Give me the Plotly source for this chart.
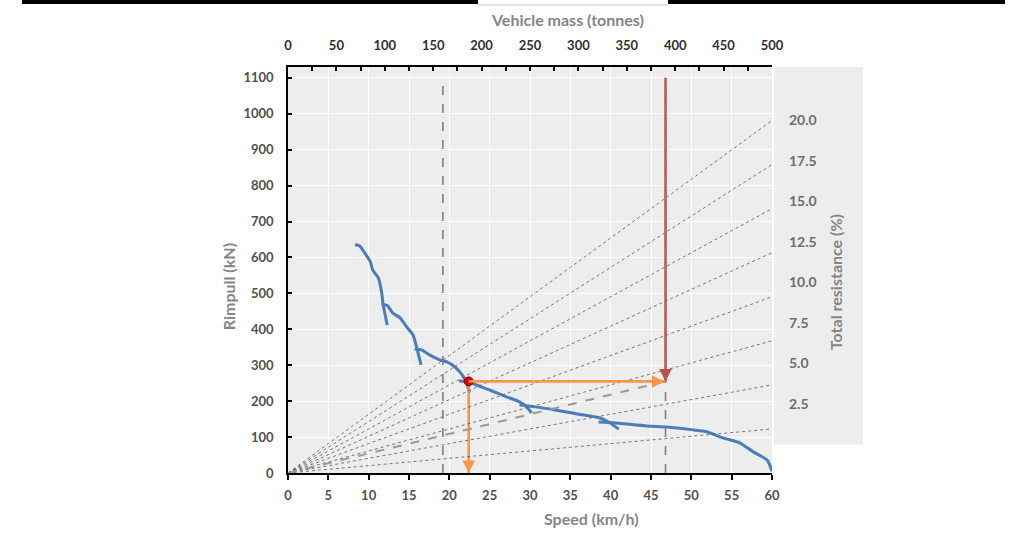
import plotly.graph_objects as go

# ---------------- data ----------------
speed_ticks = list(range(0, 61, 5))
mass_ticks = list(range(0, 501, 50))
rimpull_ticks = list(range(0, 1101, 100))
resistance_pct = [2.5, 5.0, 7.5, 10.0, 12.5, 15.0, 17.5, 20.0]

gear1_speed = [8.3, 8.9, 9.5, 10.2, 10.5, 11.2, 11.6, 11.8, 12.3]
gear1_rimpull = [635, 632, 613, 588, 565, 543, 504, 468, 412]
gear2_speed = [11.6, 12.3, 13.0, 13.9, 14.7, 15.5, 16.0, 16.5]
gear2_rimpull = [470, 466, 445, 432, 407, 384, 345, 301]
gear3_speed = [15.7, 16.6, 17.6, 18.8, 19.7, 20.7, 21.6, 22.1, 22.3, 22.5]
gear3_rimpull = [345, 342, 328, 315, 309, 295, 273, 253, 239, 223]
gear4_speed = [21.2, 22.4, 23.0, 25.0, 27.1, 28.7, 29.6, 30.2]
gear4_rimpull = [256, 254, 248, 231, 212, 198, 184, 167]
gear5_speed = [28.7, 30.0, 32.8, 36.2, 38.7, 39.9, 41.0]
gear5_rimpull = [190, 186, 177, 163, 153, 140, 122]
gear6_speed = [38.5, 40.3, 44.5, 47.0, 50.2, 51.9, 54.0, 56.0, 57.6, 59.4, 60.0]
gear6_rimpull = [142, 140, 131, 128, 120, 115, 97, 84, 60, 36, 5]

empty_mass = 160      # tonnes
loaded_mass = 390     # tonnes
op_speed = 22.4       # km/h
op_rimpull = 255      # kN
gravity = 9.81

speed_range = [0, 60]
mass_range = [0, 500]
rimpull_range = [0, 1130]
resistance_range = [-1.75, 23.27]

# ---------------- styles ----------------
BLUE = "#4a7ebb"
ORANGE = "#f79646"
RED = "#c0504d"
DGRAY = "#7f7f7f"
TICK_FONT = dict(family="Lato", size=13, color="#505050", weight="bold")
TITLE_FONT = dict(family="Lato", size=16, color="#858585", weight="bold")

fig = go.Figure()

# resistance lines (rimpull = mass * g * resistance)
for r in resistance_pct:
    fig.add_trace(go.Scatter(
        x=[mass_range[0], mass_range[1]],
        y=[0, mass_range[1] * gravity * r / 100],
        xaxis="x2", mode="lines",
        line=dict(color="#555555", width=0.8, dash="dot"),
        hoverinfo="skip", showlegend=False))

# operating resistance line
fig.add_trace(go.Scatter(
    x=[0, loaded_mass], y=[0, op_rimpull], xaxis="x2", mode="lines",
    line=dict(color="#9a9a9a", width=2, dash="dash"),
    hoverinfo="skip", showlegend=False))

# red vertical (loaded mass)
fig.add_trace(go.Scatter(
    x=[loaded_mass, loaded_mass], y=[rimpull_ticks[-1], op_rimpull], xaxis="x2",
    mode="lines", line=dict(color=RED, width=2.5),
    hoverinfo="skip", showlegend=False))

# vertical dashed lines (empty / loaded mass)
for m in (empty_mass, loaded_mass):
    fig.add_trace(go.Scatter(
        x=[m, m], y=[0, rimpull_ticks[-1]], xaxis="x2", mode="lines",
        line=dict(color=DGRAY, width=1.6, dash="dash"),
        hoverinfo="skip", showlegend=False))

# rimpull curves
for sx, sy in [(gear1_speed, gear1_rimpull), (gear2_speed, gear2_rimpull),
               (gear3_speed, gear3_rimpull), (gear4_speed, gear4_rimpull),
               (gear5_speed, gear5_rimpull), (gear6_speed, gear6_rimpull)]:
    fig.add_trace(go.Scatter(
        x=sx, y=sy, mode="lines", line=dict(color=BLUE, width=3, shape="spline", smoothing=0.6),
        hoverinfo="skip", showlegend=False))

# orange lines from operating point
op_mass_equiv = op_speed * mass_range[1] / speed_range[1]
fig.add_trace(go.Scatter(
    x=[op_mass_equiv, loaded_mass], y=[op_rimpull, op_rimpull], xaxis="x2",
    mode="lines", line=dict(color=ORANGE, width=2.6),
    hoverinfo="skip", showlegend=False))
fig.add_trace(go.Scatter(
    x=[op_speed, op_speed], y=[op_rimpull, 0], mode="lines",
    line=dict(color=ORANGE, width=2.6), hoverinfo="skip", showlegend=False))

# operating point
fig.add_trace(go.Scatter(
    x=[op_speed], y=[op_rimpull], mode="markers",
    marker=dict(color="#e00000", size=9, line=dict(color="#8b0000", width=1)),
    hoverinfo="skip", showlegend=False))

# dummy trace for right resistance axis
fig.add_trace(go.Scatter(x=[None], y=[None], yaxis="y2", showlegend=False, hoverinfo="skip"))

# arrowheads
fig.add_annotation(x=loaded_mass, y=op_rimpull, xref="x2", yref="y",
                   ax=0, ay=-14, axref="pixel", ayref="pixel", text="",
                   showarrow=True, arrowhead=2, arrowsize=1, arrowwidth=2.5, arrowcolor=RED)
fig.add_annotation(x=loaded_mass, y=op_rimpull, xref="x2", yref="y",
                   ax=-14, ay=0, text="", showarrow=True, arrowhead=2,
                   arrowsize=1, arrowwidth=2.5, arrowcolor=ORANGE, standoff=1)
fig.add_annotation(x=op_speed, y=0, xref="x", yref="y",
                   ax=0, ay=-14, text="", showarrow=True, arrowhead=2,
                   arrowsize=1, arrowwidth=2.5, arrowcolor=ORANGE)

# titles
fig.add_annotation(text="Vehicle mass (tonnes)", x=0.5785, y=1.116, xref="paper", yref="paper",
                   showarrow=False, font=TITLE_FONT, xanchor="center", yanchor="middle")
fig.add_annotation(text="Speed (km/h)", x=0.628, y=-0.113, xref="paper", yref="paper",
                   showarrow=False, font=TITLE_FONT, xanchor="center", yanchor="middle")
fig.add_annotation(text="Rimpull (kN)", x=-0.124, y=0.46, xref="paper", yref="paper",
                   showarrow=False, font=TITLE_FONT, textangle=-90,
                   xanchor="center", yanchor="middle")
fig.add_annotation(text="Total resistance (%)", x=1.130, y=0.47, xref="paper", yref="paper",
                   showarrow=False, font=TITLE_FONT, textangle=-90,
                   xanchor="center", yanchor="middle")

# right grey panel
fig.add_shape(type="rect", xref="paper", yref="y2", x0=1.004, x1=1.188,
              y0=0, y1=resistance_range[1], fillcolor="#ededed", line_width=0, layer="below")

# top border band of the screenshot
fig.add_shape(type="rect", xref="paper", yref="paper", x0=(22 - 288) / 484, x1=(478 - 288) / 484,
              y0=(473 - 4) / 406, y1=473 / 406, fillcolor="black", line_width=0)
fig.add_shape(type="rect", xref="paper", yref="paper", x0=(668 - 288) / 484, x1=(1005 - 288) / 484,
              y0=(473 - 4) / 406, y1=473 / 406, fillcolor="black", line_width=0)
fig.add_shape(type="line", xref="paper", yref="paper", x0=(478 - 288) / 484, x1=(668 - 288) / 484,
              y0=(473 - 5) / 406, y1=(473 - 5) / 406, line=dict(color="#c8c8c8", width=1))

fig.update_layout(
    width=1013, height=536,
    margin=dict(l=288, r=241, t=67, b=63, pad=0),
    paper_bgcolor="white", plot_bgcolor="#ededed",
    showlegend=False,
    xaxis=dict(range=speed_range, tickvals=speed_ticks, ticks="outside", ticklen=5,
               tickwidth=1.5, tickcolor="black", showline=True, linecolor="black", linewidth=2,
               showgrid=True, gridcolor="white", gridwidth=1, zeroline=False,
               tickfont=TICK_FONT, ticklabelstandoff=4),
    xaxis2=dict(range=mass_range, overlaying="x", side="top", anchor="y",
                tickvals=mass_ticks, ticks="inside", ticklen=4, tickwidth=1.5, tickcolor="black",
                minor=dict(dtick=25, tick0=0, ticks="inside", ticklen=4, tickwidth=1.5, tickcolor="black"),
                showline=True, linecolor="black", linewidth=2, showgrid=False, zeroline=False,
                tickfont=dict(family="Lato", size=13, color="#303030", weight="bold"),
                ticklabelstandoff=10),
    yaxis=dict(range=rimpull_range, tickvals=rimpull_ticks, ticks="inside", ticklen=4,
               tickwidth=1.5, tickcolor="black", showline=True, linecolor="black", linewidth=1.5,
               showgrid=True, gridcolor="white", gridwidth=1, zeroline=False,
               tickfont=TICK_FONT, ticklabelstandoff=10),
    yaxis2=dict(range=resistance_range, overlaying="y", side="right", anchor="x",
                tickvals=resistance_pct, ticktext=[f"{r:.1f}" for r in resistance_pct],
                ticks="", showline=False, showgrid=False, zeroline=False,
                tickfont=dict(family="Lato", size=14, color="#6e6e6e", weight="bold"),
                ticklabelstandoff=16),
)

fig.write_html("out.html")
